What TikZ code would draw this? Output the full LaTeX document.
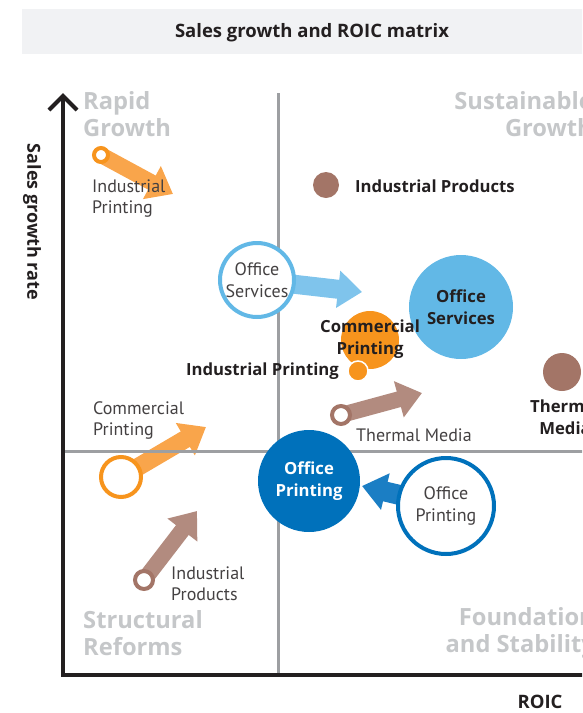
\documentclass[tikz,border=0pt]{standalone}
\usepackage{fontspec}
\setmainfont{Open Sans}
\newfontfamily\ptsans{PT Sans}
\usetikzlibrary{arrows.meta}
\pgfdeclarelayer{bg}
\pgfsetlayers{bg,main}
\definecolor{orgA}{HTML}{F7941D}
\definecolor{orgL}{HTML}{F9A54B}
\definecolor{brw}{HTML}{A37567}
\definecolor{brwL}{HTML}{B28B7F}
\definecolor{skyB}{HTML}{62B8E6}
\definecolor{skyL}{HTML}{7FC4EC}
\definecolor{dkB}{HTML}{0071BB}
\definecolor{dkBL}{HTML}{1B7EC4}
\definecolor{qgray}{HTML}{C5C7C9}
\definecolor{divg}{HTML}{9D9FA2}
\definecolor{barg}{HTML}{F1F2F4}
\definecolor{txt}{HTML}{231F20}
\tikzset{
  fat/.style 2 args={draw=#1, line width=#2, -{Triangle[width=36pt 0 0, length=24pt 0 0]}},
  ring/.style 2 args={circle, draw=#1, line width=4pt, fill=white, minimum size=#2, inner sep=0pt},
  disc/.style 2 args={circle, fill=#1, minimum size=#2, inner sep=0pt},
  quad/.style={text=qgray, font=\fontsize{23.7}{27}\selectfont\bfseries, inner sep=0pt},
  small/.style={text=txt!85, font=\ptsans\fontsize{18}{21}\selectfont, inner sep=0pt, align=left},
  smallc/.style={text=txt!85, font=\ptsans\fontsize{18}{22}\selectfont, inner sep=0pt, align=center},
  boldl/.style={text=txt, font=\fontsize{16.7}{22}\selectfont\bfseries, inner sep=0pt, align=center},
}
\begin{document}
\begin{tikzpicture}[x=1pt,y=-1pt]
\useasboundingbox (0,0) rectangle (582,713);
\clip (0,0) rectangle (582,713);
% title bar
\fill[barg] (22,9) rectangle (600,54);
\node[text=txt, font=\fontsize{18.5}{20}\selectfont\bfseries, inner sep=0pt] (title) at (312,33) {Sales growth and ROIC matrix};
% dividers
\draw[divg, line width=3pt] (278,93) -- (278,675);
\draw[divg, line width=3pt] (63,451) -- (600,451);
% axes
\draw[txt, line width=4pt, line join=miter] (63,96) -- (63,675) -- (600,675);
\draw[txt, line width=4pt, line join=miter] (49,110) -- (63,96) -- (77,110);
\node[text=txt, font=\fontsize{18}{20}\selectfont\bfseries, rotate=-90, inner sep=0pt] (ylab) at (32,222) {Sales growth rate};
\node[text=txt, font=\fontsize{18.5}{20}\selectfont\bfseries, inner sep=0pt] (xlab) at (540,702) {ROIC};
% quadrant labels
\node[quad, anchor=west, align=left] (q1) at (83,114) {Rapid\\Growth};
\node[quad, anchor=east, align=right] (q2) at (593,114) {Sustainable\\Growth};
\node[quad, anchor=west, align=left] (q3) at (83,633) {Structural\\Reforms};
\node[quad, anchor=east, align=right] (q4) at (595,633) {Foundation\\and Stability};
% tips
\coordinate (t1) at (173,194);
\coordinate (t2) at (362,292);
\coordinate (t3) at (422,393);
\coordinate (t4) at (206,427);
\coordinate (t5) at (197,511);
\coordinate (t6) at (362,486);
% rings
\node[ring={orgA}{14pt}] (r1) at (101,155) {};
\node[ring={skyB}{74pt}, smallc] (r2) at (257,280) {Office\\Services};
\node[ring={brw}{18pt}] (r3) at (341,415) {};
\node[ring={orgA}{40pt}] (r4) at (121,477) {};
\node[ring={brw}{18pt}] (r5) at (144,580) {};
\node[ring={dkB}{96pt}, smallc] (r6) at (446,506) {Office\\Printing};
% arrows
\begin{pgfonlayer}{bg}
\draw[fat={orgL}{16pt}] (r1.center) -- (t1);
\draw[fat={skyL}{19pt}] (r2.center) -- (t2);
\draw[fat={brwL}{16pt}] (r3.center) -- (t3);
\draw[fat={orgL}{18pt}] (r4.center) -- (t4);
\draw[fat={brwL}{16pt}] (r5.center) -- (t5);
\draw[fat={dkBL}{20pt}] (r6.center) -- (t6);
\end{pgfonlayer}
% discs
\node[disc={brw}{26pt}] (ipd) at (326,185) {};
\node[disc={skyB}{104pt}, boldl] (osd) at (461,307) {Office\\Services};
\node[disc={orgA}{58pt}] (cpd) at (370,340) {};
\node[boldl] (cpl) at (370,339) {Commercial\\Printing};
\node[disc={orgA}{20pt}, draw=white, line width=1.5pt] (ipd2) at (358,371) {};
\node[disc={brw}{38pt}] (tmd) at (562,372) {};
\node[disc={dkB}{102pt}, boldl, text=white] (opd) at (309,481) {Office\\Printing};
% labels
\node[small, anchor=west] (l1) at (92,199) {Industrial\\Printing};
\node[boldl, anchor=west] (l2) at (355,186) {Industrial Products};
\node[boldl, anchor=east] (l3) at (339,371) {Industrial Printing};
\node[small, anchor=west] (l4) at (356,435) {Thermal Media};
\node[boldl] (l5) at (565,417) {Thermal\\Media};
\node[small, anchor=west] (l6) at (93,420) {Commercial\\Printing};
\node[small, anchor=west] (l7) at (171,584) {Industrial\\Products};
\end{tikzpicture}
\end{document}
